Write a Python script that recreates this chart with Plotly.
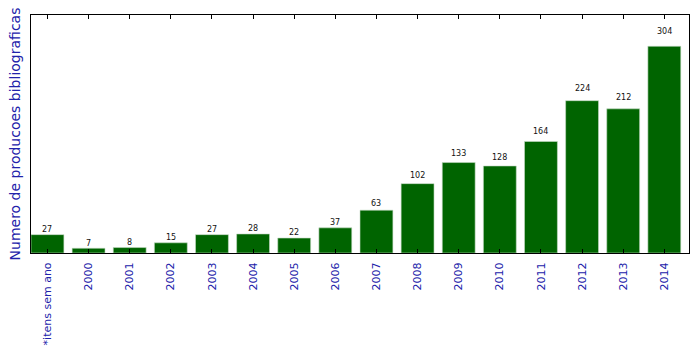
import plotly.graph_objects as go

categories = ["*itens sem ano", "2000", "2001", "2002", "2003", "2004", "2005", "2006",
              "2007", "2008", "2009", "2010", "2011", "2012", "2013", "2014"]
values = [27, 7, 8, 15, 27, 28, 22, 37, 63, 102, 133, 128, 164, 224, 212, 304]

x = list(range(len(categories)))

fig = go.Figure(go.Bar(
    x=x, y=values, width=0.8,
    marker=dict(color="#006400", line=dict(color="#c8dcc8", width=0.6)),
))

for xi, v in zip(x, values):
    fig.add_annotation(x=xi, y=v * 1.05, text=str(v), showarrow=False,
                       xanchor="center", yanchor="bottom", yshift=-2,
                       font=dict(family="DejaVu Sans", size=8, color="#111111"))

fig.update_layout(
    width=699, height=354,
    margin=dict(l=31, r=9, t=15, b=99),
    paper_bgcolor="white", plot_bgcolor="white",
    showlegend=False,
    font=dict(family="DejaVu Sans"),
    xaxis=dict(
        range=[-0.4, 15.6],
        tickmode="array", tickvals=x, ticktext=categories,
        tickangle=-90, ticks="inside", ticklen=4, tickcolor="black",
        tickfont=dict(family="DejaVu Sans", size=11, color="#2222aa"),
        showline=True, linecolor="black", linewidth=1, mirror="ticks",
        showgrid=False, zeroline=False, ticklabelstandoff=4,
    ),
    yaxis=dict(
        range=[0, 350], showticklabels=False, ticks="",
        showline=True, linecolor="black", linewidth=1, mirror=True,
        showgrid=False, zeroline=False,
        title=dict(text="Numero de producoes bibliograficas", standoff=6,
                   font=dict(family="DejaVu Sans", size=14, color="#2222aa")),
    ),
)

fig.write_html("out.html")
